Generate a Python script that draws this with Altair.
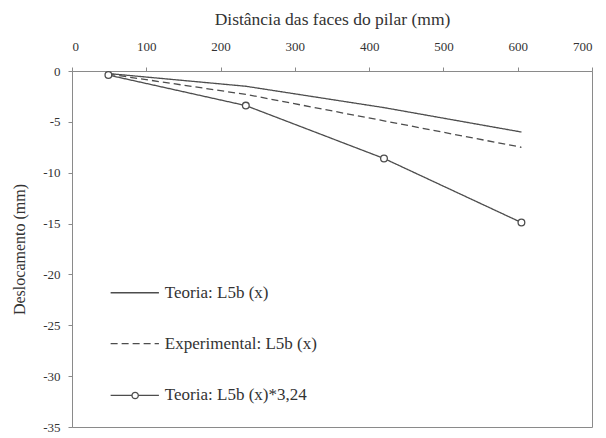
import altair as alt
import pandas as pd

# ---- data ----
series_names = ["Teoria: L5b (x)", "Experimental: L5b (x)", "Teoria: L5b (x)*3,24"]
x_teoria = [49, 234, 420, 605]
y_teoria = [-0.25, -1.5, -3.6, -6.0]
x_exp = [49, 234, 420, 605]
y_exp = [-0.3, -2.3, -4.9, -7.5]
x_teoria324 = [49, 234, 420, 605]
y_teoria324 = [-0.4, -3.4, -8.6, -14.9]
x_ticks = [0, 100, 200, 300, 400, 500, 600, 700]
y_ticks = [0, -5, -10, -15, -20, -25, -30, -35]

rows = []
for name, xs, ys in zip(series_names,
                        [x_teoria, x_exp, x_teoria324],
                        [y_teoria, y_exp, y_teoria324]):
    for i, (xv, yv) in enumerate(zip(xs, ys)):
        rows.append({"serie": name, "x": xv, "y": yv, "ordem": i})
df = pd.DataFrame(rows)

FONT = "Liberation Serif"
LINE = "#4d4d4d"
AXIS = "#8a8a8a"
TXT = "#333333"

# legend layout (in axis units), kept apart from the data
LEG_X0, LEG_X1, LEG_XMID, LEG_XTXT = 52, 117, 85, 125
LEG_ROWS = [-21.8, -26.8, -31.9]
legend_df = pd.DataFrame({
    "serie": series_names,
    "x0": [LEG_X0] * 3, "x1": [LEG_X1] * 3,
    "xm": [LEG_XMID] * 3, "xt": [LEG_XTXT] * 3,
    "y": LEG_ROWS,
})

xscale = alt.Scale(domain=[0, 700], nice=False, zero=False)
yscale = alt.Scale(domain=[-35, 0], nice=False)
dash_scale = alt.Scale(domain=series_names, range=[[1, 0], [7, 4], [1, 0]])

xenc = alt.X("x:Q", scale=xscale,
             axis=alt.Axis(orient="top", values=x_ticks,
                           title="Distância das faces do pilar (mm)",
                           titleFont=FONT, titleFontSize=17.5,
                           titleFontWeight="normal", titleColor=TXT,
                           titlePadding=12,
                           labelFont=FONT, labelFontSize=13,
                           labelColor=TXT, labelPadding=14,
                           tickSize=4, grid=False,
                           domainColor=AXIS, tickColor=AXIS))
yenc = alt.Y("y:Q", scale=yscale,
             axis=alt.Axis(values=y_ticks,
                           title="Deslocamento (mm)",
                           titleFont=FONT, titleFontSize=16,
                           titleFontWeight="normal", titleColor=TXT,
                           titlePadding=15,
                           labelFont=FONT, labelFontSize=13,
                           labelColor=TXT, labelPadding=8,
                           labelExpr="toString(datum.value)",
                           tickSize=4, grid=False,
                           domainColor=AXIS, tickColor=AXIS))

lines = alt.Chart(df).mark_line(strokeWidth=1.3, color=LINE).encode(
    x=xenc,
    y=yenc,
    order="ordem:Q",
    strokeDash=alt.StrokeDash("serie:N", scale=dash_scale, legend=None),
)

points = alt.Chart(df).transform_filter(
    alt.datum.serie == series_names[2]
).mark_point(shape="circle", filled=True, fill="white", stroke=LINE,
             strokeWidth=1.3, size=45, opacity=1).encode(
    x=alt.X("x:Q", scale=xscale),
    y=alt.Y("y:Q", scale=yscale),
)

leg_lines = alt.Chart(legend_df).mark_rule(strokeWidth=1.3, color=LINE).encode(
    x=alt.X("x0:Q", scale=xscale),
    x2="x1:Q",
    y=alt.Y("y:Q", scale=yscale),
    strokeDash=alt.StrokeDash("serie:N", scale=dash_scale, legend=None),
)

leg_point = alt.Chart(legend_df).transform_filter(
    alt.datum.serie == series_names[2]
).mark_point(shape="circle", filled=True, fill="white", stroke=LINE,
             strokeWidth=1.3, size=40, opacity=1).encode(
    x=alt.X("xm:Q", scale=xscale),
    y=alt.Y("y:Q", scale=yscale),
)

leg_text = alt.Chart(legend_df).mark_text(
    align="left", baseline="middle", font=FONT, fontSize=17, color=TXT
).encode(
    x=alt.X("xt:Q", scale=xscale),
    y=alt.Y("y:Q", scale=yscale),
    text="serie:N",
)

chart = alt.layer(lines, points, leg_lines, leg_point, leg_text).properties(
    width=520, height=356,
    autosize=alt.AutoSizeParams(type="none"),
    padding={"left": 64, "top": 63, "right": 6, "bottom": 8},
    background="white",
).configure_view(stroke=AXIS, strokeWidth=1).configure_axis(
    labelFont=FONT, titleFont=FONT
)

chart.save("out.html", embed_options={"renderer": "svg", "actions": False})
